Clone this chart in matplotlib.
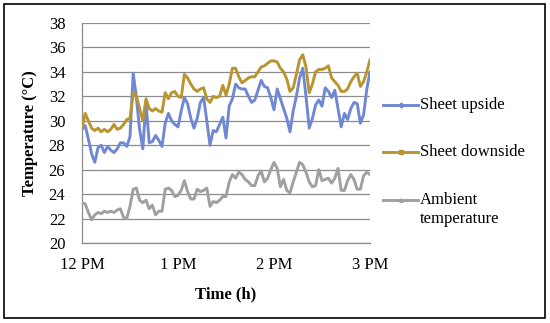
import matplotlib
matplotlib.use("Agg")
import matplotlib.pyplot as plt
from matplotlib.lines import Line2D
from matplotlib.patches import Rectangle

# time in minutes after 12 PM (2-minute sampling)
minutes = list(range(0, 181, 2))

sheet_upside = [
    29.3, 29.6, 28.5, 27.3, 26.6, 27.8, 28.0, 27.4, 27.9, 27.6,
    27.4, 27.7, 28.2, 28.2, 27.9, 28.7, 33.9, 31.9, 29.3, 27.7,
    31.5, 28.2, 28.3, 28.8, 28.4, 27.9, 29.8, 30.6, 30.0, 29.7,
    29.5, 30.8, 31.9, 31.4, 30.2, 29.4, 30.2, 31.5, 31.9, 30.0,
    28.0, 29.2, 29.1, 29.7, 30.3, 28.6, 31.2, 31.8, 33.0, 32.7,
    32.6, 32.6, 32.0, 31.5, 31.7, 32.5, 33.3, 32.8, 32.7, 31.9,
    30.9, 32.6, 31.8, 31.0, 30.2, 29.1, 30.8, 32.0, 33.5, 34.3,
    32.0, 29.4, 30.2, 31.3, 31.7, 31.2, 32.7, 32.4, 31.9, 32.5,
    31.0, 29.5, 30.6, 30.1, 31.0, 31.5, 31.4, 29.8, 30.5, 32.6,
    34.0,
]

sheet_downside = [
    29.4, 30.6, 30.0, 29.4, 29.2, 29.4, 29.1, 29.3, 29.1, 29.3,
    29.7, 29.3, 29.4, 29.7, 30.1, 30.2, 32.3, 32.0, 31.0, 30.0,
    31.8, 31.0, 30.8, 31.0, 30.8, 30.7, 32.3, 31.8, 32.3, 32.4,
    32.0, 31.9, 33.8, 33.5, 33.0, 32.6, 32.4, 32.6, 32.7, 31.8,
    31.5, 32.0, 31.9, 32.0, 32.9, 32.1, 33.0, 34.3, 34.3, 33.6,
    33.1, 33.3, 33.5, 33.6, 33.6, 34.0, 34.4, 34.5, 34.7, 34.9,
    34.9, 34.8, 34.3, 34.0, 33.4, 32.4, 32.7, 33.8, 35.0, 35.4,
    34.4, 32.3, 33.0, 34.0, 34.2, 34.2, 34.3, 34.5, 33.5, 33.2,
    32.9, 32.4, 32.4, 32.6, 33.2, 33.6, 33.9, 32.8, 33.2, 34.0,
    35.0,
]

ambient = [
    23.3, 23.2, 22.5, 21.9, 22.3, 22.5, 22.4, 22.6, 22.5, 22.6,
    22.5, 22.7, 22.8, 22.1, 22.0, 23.0, 24.4, 24.5, 23.5, 23.3,
    23.5, 22.8, 23.1, 22.3, 22.6, 22.6, 24.4, 24.5, 24.3, 23.8,
    23.9, 24.3, 25.1, 24.2, 23.6, 23.6, 24.4, 24.2, 24.3, 24.5,
    23.0, 23.4, 23.3, 23.5, 23.8, 23.8, 25.0, 25.6, 25.3, 25.8,
    25.6, 25.2, 25.0, 24.7, 24.7, 25.5, 25.9, 25.0, 25.3, 26.0,
    26.6, 26.1, 24.6, 25.2, 24.3, 24.1, 25.0, 25.8, 26.6, 26.4,
    25.8, 25.0, 24.6, 24.7, 26.0, 25.1, 25.2, 25.3, 24.9, 25.3,
    26.1, 24.3, 24.3, 25.1, 25.6, 25.2, 24.4, 24.4, 25.5, 25.8,
    25.6,
]

series_labels = ["Sheet upside", "Sheet downside", "Ambient\ntemperature"]
series_colors = ["#7088D4", "#B8952F", "#A0A0A0"]
series_markers = ["D", "s", "^"]

x_tick_pos = [0, 60, 120, 180]
x_tick_labels = ["12 PM", "1 PM", "2 PM", "3 PM"]
y_ticks = [20, 22, 24, 26, 28, 30, 32, 34, 36, 38]

plt.rcParams["font.family"] = ["Liberation Serif", "DejaVu Serif"]

W, H = 550, 323
fig = plt.figure(figsize=(W / 100, H / 100), dpi=100)
ax = fig.add_axes([82 / W, 1 - 243 / H, (370 - 82) / W, (243 - 23) / H])

for vals, col in zip([sheet_upside, sheet_downside, ambient], series_colors):
    ax.plot(minutes, vals, color=col, lw=2.1, solid_joinstyle="round",
            solid_capstyle="round", zorder=3)

ax.set_xlim(0, 180)
ax.set_ylim(20, 38)
ax.set_yticks(y_ticks)
ax.set_xticks(x_tick_pos)
ax.set_xticklabels(x_tick_labels)
ax.tick_params(axis="both", length=0, labelsize=12)
ax.tick_params(axis="y", pad=12)
ax.tick_params(axis="x", pad=10)
ax.grid(axis="y", color="#8C8C8C", lw=0.9)
ax.set_axisbelow(True)
for s in ["top", "right"]:
    ax.spines[s].set_visible(False)
for s in ["left", "bottom"]:
    ax.spines[s].set_color("#8C8C8C")
    ax.spines[s].set_linewidth(0.9)

ax.set_ylabel("Temperature (°C)", fontsize=12, fontweight="bold", labelpad=8)
ax.set_xlabel("Time (h)", fontsize=12, fontweight="bold", labelpad=10)

# legend drawn manually in pixel coordinates
leg_y = [105, 152, 200]
for yy, lab, col, mk in zip(leg_y, series_labels, series_colors, series_markers):
    fy = 1 - yy / H
    fig.add_artist(Line2D([383 / W, 418 / W], [fy, fy], color=col, lw=2.1,
                          transform=fig.transFigure))
    fig.add_artist(Line2D([400.5 / W], [fy], color=col, marker=mk, markersize=2.5,
                          transform=fig.transFigure))
    lines = lab.split("\n")
    for i, txt in enumerate(lines):
        fig.text(420 / W, 1 - (yy + 19 * i) / H, txt, fontsize=12,
                 va="center", ha="left")

# outer frame
fig.add_artist(Rectangle((4 / W, 1 - 318 / H), (545 - 4) / W, (318 - 4) / H,
                         transform=fig.transFigure, fill=False, edgecolor="black", lw=1.2))

fig.savefig("out.png", dpi=100)
